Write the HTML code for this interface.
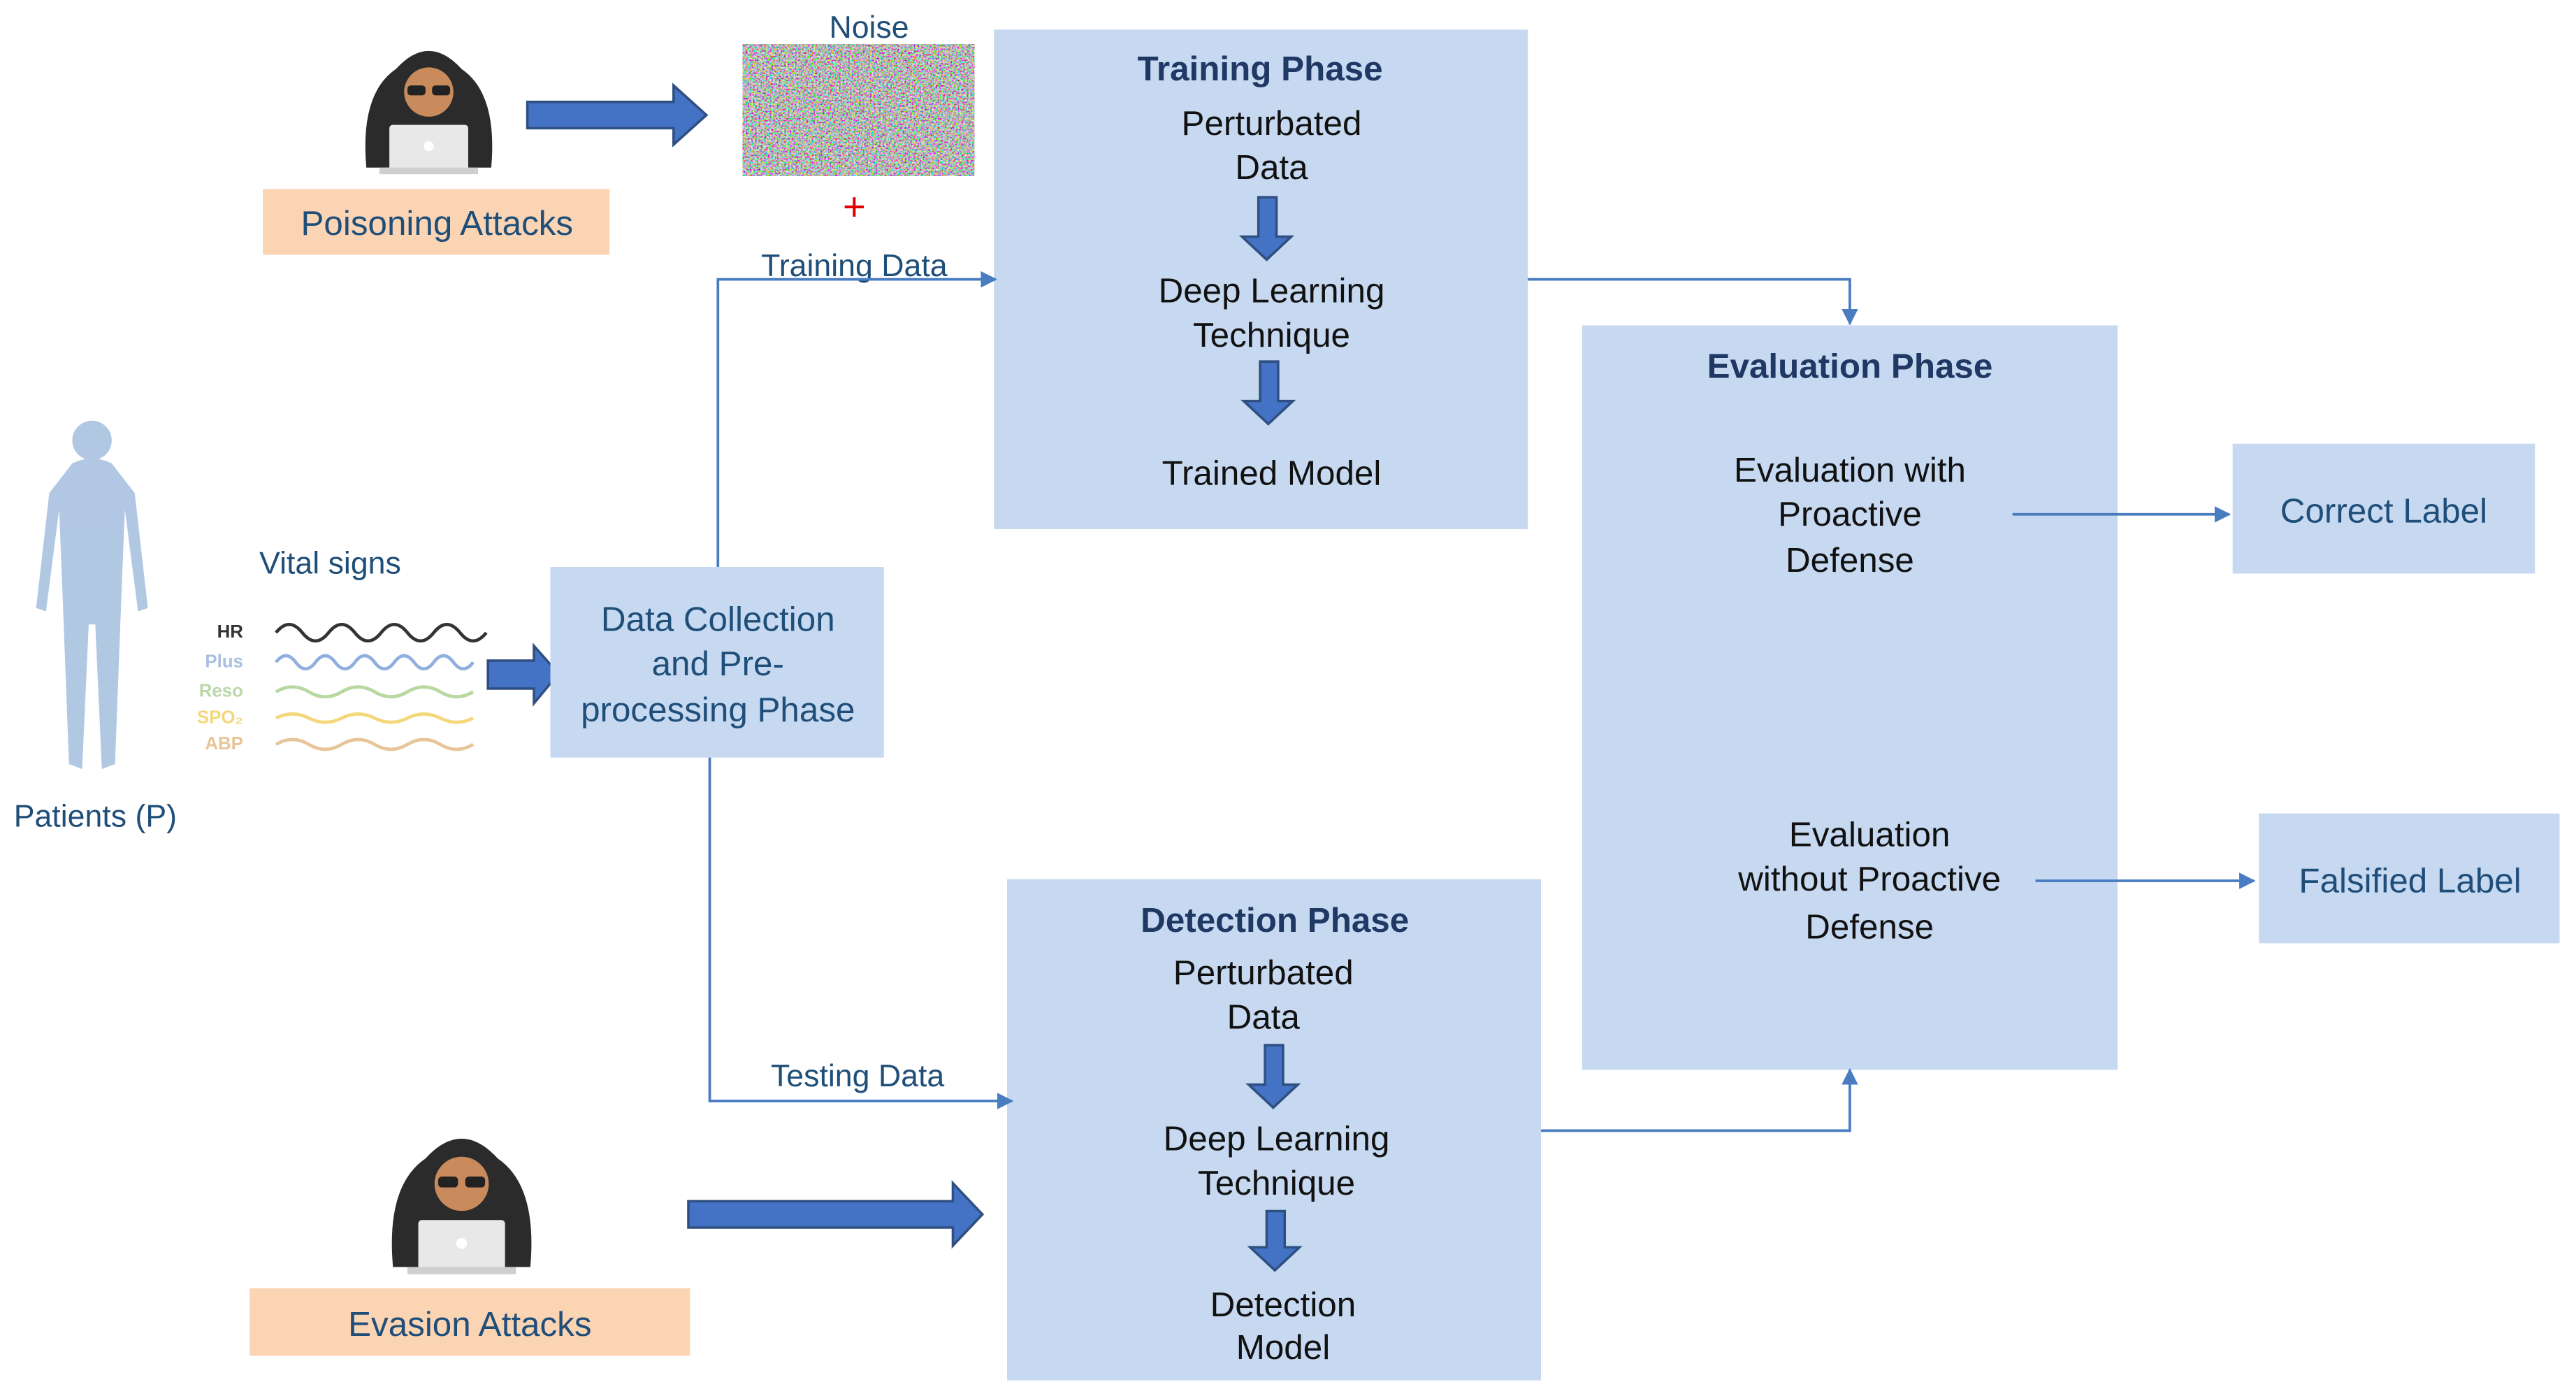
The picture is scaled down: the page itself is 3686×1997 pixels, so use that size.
<!DOCTYPE html>
<html><head><meta charset="utf-8"><style>
html,body{margin:0;padding:0;background:#fff;}
svg{display:block;}
text{font-family:"Liberation Sans",sans-serif;}
</style></head><body>
<svg width="3686" height="1997" viewBox="0 0 1568 849.5" xmlns="http://www.w3.org/2000/svg">
<defs>
<filter id="nz" x="0" y="0" width="100%" height="100%">
<feTurbulence type="fractalNoise" baseFrequency="0.9" numOctaves="2" seed="3"/>
<feColorMatrix type="matrix" values="2.2 -0.6 0 0 -0.3  -0.6 2.2 0 0 -0.3  0 -0.6 2.2 0 -0.3  0 0 0 0 1"/>
</filter>
<marker id="ah" markerWidth="10" markerHeight="10" refX="9" refY="5" orient="auto" markerUnits="userSpaceOnUse">
<path d="M0,0 L10,5 L0,10 z" fill="#4a7cc0"/></marker>
<g id="hacker">
<path d="M-38,40 Q-42,-5 -20,-20 Q0,-42 20,-20 Q42,-5 38,40 z" fill="#2b2b2b"/>
<circle cx="0" cy="-6" r="15" fill="#c98a5c"/>
<path d="M-16,-10 Q0,-40 16,-10 Q16,-22 0,-26 Q-16,-22 -16,-10z" fill="#2b2b2b"/>
<rect x="-13" y="-10" width="11" height="6" rx="2" fill="#222"/><rect x="2" y="-10" width="11" height="6" rx="2" fill="#222"/>
<rect x="-24" y="14" width="48" height="28" rx="2" fill="#e8e8e8"/>
<rect x="-30" y="40" width="60" height="4" fill="#cfcfcf"/>
<circle cx="0" cy="27" r="3" fill="#fff"/>
</g>
</defs>

<use href="#hacker" x="261" y="62"/>
<use href="#hacker" x="281" y="727" transform="translate(281,727) scale(1.1) translate(-281,-727)"/>

<rect x="160" y="115" width="211" height="40" fill="#fbd4b4"/>
<text x="266" y="143" font-size="21" fill="#1f4e79" text-anchor="middle">Poisoning Attacks</text>
<rect x="152" y="784" width="268" height="41" fill="#fbd4b4"/>
<text x="286" y="813" font-size="21" fill="#1f4e79" text-anchor="middle">Evasion Attacks</text>

<text x="529" y="23" font-size="19" fill="#1f4e79" text-anchor="middle">Noise</text>
<rect x="452" y="27" width="141" height="80" filter="url(#nz)"/>
<text x="520" y="134" font-size="24" fill="#e00000" text-anchor="middle">+</text>

<g fill="#4472c4" stroke="#2f4f80" stroke-width="1.5">
<path d="M321,62 L410,62 L410,52 L430,70 L410,88 L410,78 L321,78 z"/>
<path d="M297,402 L325,402 L325,393 L340,410 L325,428 L325,419 L297,419 z"/>
<path d="M419,731 L580,731 L580,720 L598,739 L580,758 L580,747 L419,747 z"/>
</g>

<g fill="#a9c2e0" opacity="0.9">
<circle cx="56" cy="268" r="12"/>
<path d="M44,282 Q56,276 68,282 L82,300 L90,370 L84,372 L76,310 L74,360 L70,465 L62,468 L58,380 L54,380 L50,468 L42,465 L38,360 L36,310 L28,372 L22,370 L30,300 z"/>
</g>
<text x="58" y="503" font-size="19" fill="#1f4e79" text-anchor="middle">Patients (P)</text>

<text x="201" y="349" font-size="19" fill="#1f4e79" text-anchor="middle">Vital signs</text>
<g font-size="11" font-weight="bold" text-anchor="end">
<text x="148" y="388" fill="#333">HR</text>
<text x="148" y="406" fill="#a8c0e0">Plus</text>
<text x="148" y="424" fill="#bcd8a8">Reso</text>
<text x="148" y="440" fill="#f4d77a">SPO₂</text>
<text x="148" y="456" fill="#e8c49a">ABP</text>
</g>
<g fill="none" stroke-width="2">
<path d="M168,385 q8,-10 16,0 t16,0 t16,0 t16,0 t16,0 t16,0 t16,0 t16,0" stroke="#333"/>
<path d="M168,403 q6,-8 12,0 t12,0 t12,0 t12,0 t12,0 t12,0 t12,0 t12,0 t12,0 t12,0" stroke="#8fb0de"/>
<path d="M168,421 q10,-6 20,0 t20,0 t20,0 t20,0 t20,0 t20,0" stroke="#b8d8a0"/>
<path d="M168,437 q10,-5 20,0 t20,0 t20,0 t20,0 t20,0 t20,0" stroke="#f4d77a"/>
<path d="M168,453 q10,-6 20,0 t20,0 t20,0 t20,0 t20,0 t20,0" stroke="#e8c49a"/>
</g>

<g fill="#c6d9f1">
<rect x="335" y="345" width="203" height="116"/>
<rect x="605" y="18" width="325" height="304"/>
<rect x="963" y="198" width="326" height="453"/>
<rect x="613" y="535" width="325" height="305"/>
<rect x="1359" y="270" width="184" height="79"/>
<rect x="1375" y="495" width="183" height="79"/>
</g>

<g fill="#4472c4" stroke="#2f4f80" stroke-width="1.5">
<path d="M766,120 L777,120 L777,144 L786,144 L771,158 L756,144 L766,144 z"/>
<path d="M767,220 L778,220 L778,244 L787,244 L772,258 L757,244 L767,244 z"/>
<path d="M770,636 L781,636 L781,660 L790,660 L775,674 L760,660 L770,660 z"/>
<path d="M771,737 L782,737 L782,759 L791,759 L776,773 L761,759 L771,759 z"/>
</g>

<g font-size="21" fill="#1f4e79" text-anchor="middle">
<text x="437" y="384">Data Collection</text>
<text x="437" y="411">and Pre-</text>
<text x="437" y="439">processing Phase</text>
<text x="1451" y="318">Correct Label</text>
<text x="1467" y="543">Falsified Label</text>
<text x="520" y="168" font-size="19">Training Data</text>
<text x="522" y="661" font-size="19">Testing Data</text>
</g>

<g font-size="21" fill="#1f3864" font-weight="bold" text-anchor="middle">
<text x="767" y="49">Training Phase</text>
<text x="1126" y="230">Evaluation Phase</text>
<text x="776" y="567">Detection Phase</text>
</g>
<g font-size="21" fill="#111" text-anchor="middle">
<text x="774" y="82">Perturbated</text>
<text x="774" y="109">Data</text>
<text x="774" y="184">Deep Learning</text>
<text x="774" y="211">Technique</text>
<text x="774" y="295">Trained Model</text>
<text x="769" y="599">Perturbated</text>
<text x="769" y="626">Data</text>
<text x="777" y="700">Deep Learning</text>
<text x="777" y="727">Technique</text>
<text x="781" y="801">Detection</text>
<text x="781" y="827">Model</text>
<text x="1126" y="293">Evaluation with</text>
<text x="1126" y="320">Proactive</text>
<text x="1126" y="348">Defense</text>
<text x="1138" y="515">Evaluation</text>
<text x="1138" y="542">without Proactive</text>
<text x="1138" y="571">Defense</text>
</g>

<g fill="none" stroke="#4a7cc0" stroke-width="1.6">
<path d="M437,345 L437,170 L606,170" marker-end="url(#ah)"/>
<path d="M432,461 L432,670 L616,670" marker-end="url(#ah)"/>
<path d="M930,170 L1126,170 L1126,197" marker-end="url(#ah)"/>
<path d="M938,688 L1126,688 L1126,651" marker-end="url(#ah)"/>
<path d="M1225,313 L1357,313" marker-end="url(#ah)"/>
<path d="M1239,536 L1372,536" marker-end="url(#ah)"/>
</g>
</svg>
</body></html>
